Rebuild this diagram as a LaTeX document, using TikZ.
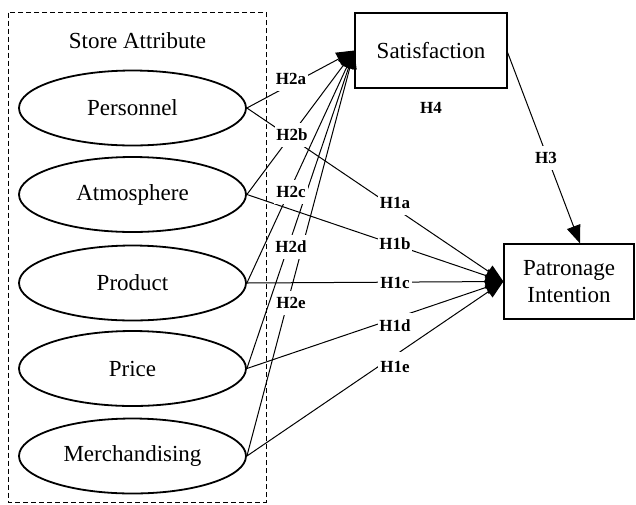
\documentclass[tikz,border=0pt]{standalone}
\usepackage{fontspec}
\setmainfont{Liberation Serif}
\usetikzlibrary{shapes.geometric,arrows.meta}
\begin{document}
\begin{tikzpicture}[x=1pt,y=-1pt,
  attr/.style={ellipse, draw, line width=1.8pt, minimum width=227pt, minimum height=75pt, inner sep=0pt, font=\fontsize{23}{26}\selectfont},
  boxnode/.style={rectangle, draw, line width=1.2pt, inner sep=0pt, font=\fontsize{23}{27}\selectfont, align=center},
  hyp/.style={fill=white, inner sep=0pt, minimum width=34pt, minimum height=24pt, font=\bfseries\fontsize{17}{20}\selectfont},
  plain/.style={inner sep=0pt, font=\fontsize{23}{26}\selectfont},
  link/.style={line width=1pt},
  arr/.style={link, -{Triangle[length=18pt,width=14pt]}},
]
\useasboundingbox (0,0) rectangle (636,504);
% group frame
\draw[dash pattern=on 5pt off 3pt, line width=1pt] (8.5,12.7) rectangle (266.5,502);
\node[plain] (title) at (137.5,41) {Store Attribute};
% attributes
\node[attr] (pers) at (132.5,108) {Personnel};
\node[attr] (atmo) at (132.5,194.5) {Atmosphere};
\node[attr] (prod) at (132.5,283) {Product};
\node[attr] (price) at (132.5,368.5) {Price};
\node[attr] (merch) at (132.5,456) {Merchandising};
% outcomes
\node[boxnode, minimum width=152pt, minimum height=75pt] (sat) at (431,50.5) {Satisfaction};
\node[boxnode, minimum width=130pt, minimum height=75pt] (pat) at (569,281.5) {Patronage\\Intention};
% links to satisfaction
\foreach \s in {pers,atmo,prod,price,merch}
  \draw[arr] (\s.east) -- (sat.west);
% links to patronage
\foreach \s in {pers,atmo,prod,price,merch}
  \draw[arr] (\s.east) -- (pat.west);
% satisfaction to patronage
\coordinate (satout) at ([yshift=-2pt]sat.east);
\coordinate (patin) at ([xshift=11pt]pat.north);
\draw[arr] (satout) -- (patin);
% hypothesis labels
\node[hyp] (h2a) at (291,79) {H2a};
\node[hyp] (h2b) at (292,135) {H2b};
\node[hyp] (h2c) at (291,192) {H2c};
\node[hyp] (h2d) at (291,247) {H2d};
\node[hyp] (h2e) at (291,303) {H2e};
\node[hyp] (h1a) at (395,203) {H1a};
\node[hyp] (h1b) at (395,244) {H1b};
\node[hyp] (h1c) at (395,283) {H1c};
\node[hyp, minimum height=26pt] (h1d) at (395,326) {H1d};
\node[hyp, minimum height=30pt] (h1e) at (395,367) {H1e};
\node[hyp, minimum width=22pt] (h3) at (546,158) {H3};
\node[hyp, fill=none] (h4) at (431,108) {H4};
\end{tikzpicture}
\end{document}
